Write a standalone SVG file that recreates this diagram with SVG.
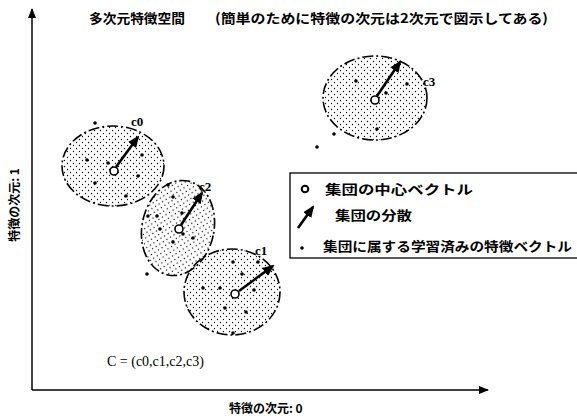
<svg xmlns="http://www.w3.org/2000/svg" width="577" height="416" viewBox="0 0 577 416">
<defs>
<pattern id="dots" width="6" height="6" patternUnits="userSpaceOnUse">
<circle cx="1.5" cy="1.5" r="0.65" fill="#000"/>
<circle cx="4.5" cy="4.5" r="0.65" fill="#000"/>
</pattern>
<marker id="ah" markerUnits="userSpaceOnUse" markerWidth="12" markerHeight="10" refX="10" refY="5" orient="auto">
<path d="M0,0 L12,5 L0,10 z" fill="#000"/>
</marker>
<marker id="axh" markerUnits="userSpaceOnUse" markerWidth="10" markerHeight="8" refX="9" refY="4" orient="auto">
<path d="M0,0 L10,4 L0,8 z" fill="#000"/>
</marker>
</defs>
<style>
.jp{font-family:"Noto Sans CJK JP","Noto Sans",sans-serif;font-weight:bold;font-size:13px;fill:#000}
.lat{font-family:"Liberation Serif",serif;font-size:14px;fill:#000}
.lbl{font-family:"Liberation Serif",serif;font-size:13px;font-weight:bold;fill:#000}
.cl{fill:url(#dots);stroke:#000;stroke-width:1.6;stroke-dasharray:11 3 2 3}
.ctr{fill:#fff;stroke:#000;stroke-width:1.6}
.vec{stroke:#000;stroke-width:2.6;fill:none;marker-end:url(#ah)}
.pt{fill:#000}
</style>
<rect width="577" height="416" fill="#fff"/>

<g id="axes">
<line x1="32" y1="390" x2="32" y2="9" stroke="#000" stroke-width="1.5" marker-end="url(#axh)"/>
<line x1="32" y1="390" x2="488" y2="390" stroke="#000" stroke-width="1.5" marker-end="url(#axh)"/>
</g>

<g id="title">
<text class="jp" x="89" y="23" textLength="96" lengthAdjust="spacingAndGlyphs">多次元特徴空間</text>
<text class="jp" x="215" y="23" textLength="333" lengthAdjust="spacingAndGlyphs">(簡単のために特徴の次元は2次元で図示してある)</text>
</g>

<g id="cluster-c0">
<ellipse class="cl" cx="113" cy="166" rx="51" ry="40"/>
<circle class="pt" cx="87" cy="160" r="1.8"/>
<circle class="pt" cx="108" cy="163" r="1.8"/>
<circle class="pt" cx="142" cy="155" r="1.8"/>
<circle class="pt" cx="138" cy="176" r="1.8"/>
<circle class="pt" cx="95" cy="183" r="1.8"/>
<circle class="pt" cx="126" cy="196" r="1.8"/>
<circle class="pt" cx="95" cy="123" r="1.8"/>
<line class="vec" x1="116" y1="167" x2="138" y2="137"/>
<circle class="ctr" cx="114" cy="171" r="4"/>
<text class="lbl" x="131" y="126">c0</text>
</g>

<g id="cluster-c2">
<ellipse class="cl" cx="178" cy="228" rx="36" ry="48" transform="rotate(12 178 228)"/>
<circle class="pt" cx="168" cy="185" r="1.8"/>
<circle class="pt" cx="173" cy="197" r="1.8"/>
<circle class="pt" cx="148" cy="216" r="1.8"/>
<circle class="pt" cx="157" cy="216" r="1.8"/>
<circle class="pt" cx="182" cy="213" r="1.8"/>
<circle class="pt" cx="160" cy="229" r="1.8"/>
<circle class="pt" cx="183" cy="234" r="1.8"/>
<circle class="pt" cx="193" cy="238" r="1.8"/>
<circle class="pt" cx="173" cy="242" r="1.8"/>
<circle class="pt" cx="147" cy="274" r="1.8"/>
<line class="vec" x1="181" y1="225" x2="202" y2="193"/>
<circle class="ctr" cx="179" cy="229" r="4"/>
<text class="lbl" x="199" y="191">c2</text>
</g>

<g id="cluster-c1">
<ellipse class="cl" cx="232" cy="292" rx="48" ry="43"/>
<circle class="pt" cx="233" cy="262" r="1.8"/>
<circle class="pt" cx="258" cy="262" r="1.8"/>
<circle class="pt" cx="242" cy="274" r="1.8"/>
<circle class="pt" cx="203" cy="288" r="1.8"/>
<circle class="pt" cx="220" cy="288" r="1.8"/>
<circle class="pt" cx="254" cy="290" r="1.8"/>
<circle class="pt" cx="225" cy="308" r="1.8"/>
<circle class="pt" cx="246" cy="312" r="1.8"/>
<circle class="pt" cx="233" cy="333" r="1.8"/>
<line class="vec" x1="239" y1="291" x2="273" y2="266"/>
<circle class="ctr" cx="235" cy="294" r="4"/>
<text class="lbl" x="255" y="255">c1</text>
</g>

<g id="cluster-c3">
<ellipse class="cl" cx="375" cy="98" rx="52" ry="42"/>
<circle class="pt" cx="356" cy="81" r="1.8"/>
<circle class="pt" cx="407" cy="84" r="1.8"/>
<circle class="pt" cx="386" cy="93" r="1.8"/>
<circle class="pt" cx="377" cy="129" r="1.8"/>
<circle class="pt" cx="334" cy="134" r="1.8"/>
<circle class="pt" cx="317" cy="147" r="1.8"/>
<line class="vec" x1="377" y1="96" x2="400" y2="62"/>
<circle class="ctr" cx="375" cy="100" r="4"/>
<text class="lbl" x="423" y="86">c3</text>
</g>

<g id="legend">
<rect x="290" y="173" width="300" height="85" fill="#fff" stroke="#000" stroke-width="1.3"/>
<circle cx="305" cy="189" r="3.3" fill="#fff" stroke="#000" stroke-width="2"/>
<text class="jp" x="325" y="194" textLength="148" lengthAdjust="spacingAndGlyphs">集団の中心ベクトル</text>
<line x1="298" y1="228" x2="313" y2="207" stroke="#000" stroke-width="2.6" marker-end="url(#ah)"/>
<text class="jp" x="335" y="220" textLength="77" lengthAdjust="spacingAndGlyphs">集団の分散</text>
<circle cx="302" cy="248" r="1.8" fill="#000"/>
<text class="jp" x="323" y="251" textLength="249" lengthAdjust="spacingAndGlyphs">集団に属する学習済みの特徴ベクトル</text>
</g>

<g id="labels">
<text class="lat" x="107" y="366">C = (c0,c1,c2,c3)</text>
<text class="jp" x="229" y="413" style="font-size:12px">特徴の次元: 0</text>
<text class="jp" x="0" y="0" style="font-size:12px" text-anchor="middle" transform="translate(19 205) rotate(-90)">特徴の次元: 1</text>
</g>
</svg>
